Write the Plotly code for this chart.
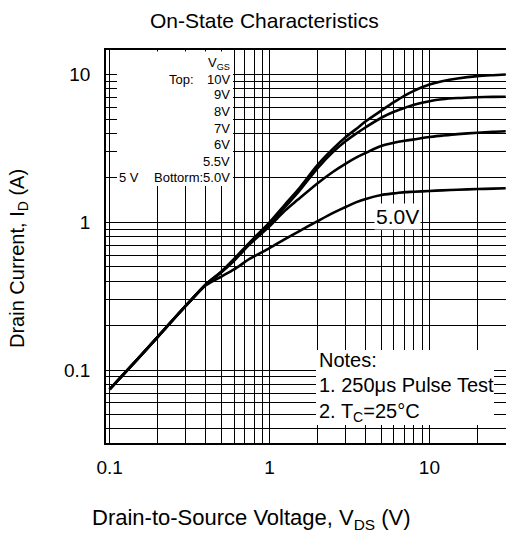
import plotly.graph_objects as go

# ---- data ----
vds = [0.1, 0.15, 0.2, 0.3, 0.4, 0.5, 0.6, 0.75, 1.0, 1.25, 1.5, 2, 2.5, 3, 3.5, 4, 5, 6, 7, 8,
       10, 12, 15, 20, 25, 30]
id_10v = [0.074, 0.119, 0.168, 0.273, 0.38, 0.465, 0.565, 0.73, 1.0, 1.32, 1.65, 2.45, 3.15, 3.78,
          4.3, 4.83, 5.7, 6.5, 7.2, 7.75, 8.55, 9.0, 9.4, 9.75, 9.9, 10.0]
id_9v = [0.074, 0.119, 0.168, 0.273, 0.38, 0.462, 0.555, 0.715, 0.965, 1.27, 1.58, 2.33, 3.0, 3.55,
         4.0, 4.4, 5.1, 5.6, 5.95, 6.25, 6.6, 6.8, 6.93, 7.02, 7.06, 7.08]
id_6v = [0.074, 0.119, 0.168, 0.273, 0.38, 0.46, 0.55, 0.71, 0.94, 1.2, 1.42, 1.84, 2.2, 2.5,
         2.75, 2.95, 3.28, 3.45, 3.56, 3.64, 3.78, 3.86, 3.95, 4.04, 4.1, 4.13]
id_5v = [0.074, 0.119, 0.168, 0.273, 0.375, 0.43, 0.48, 0.565, 0.67, 0.77, 0.86, 1.02, 1.16, 1.27,
         1.37, 1.44, 1.53, 1.57, 1.6, 1.61, 1.63, 1.645, 1.66, 1.68, 1.69, 1.70]

major_ticks = [0.1, 1, 10]
major_text = ["0.1", "1", "10"]
x_minor = [0.2, 0.3, 0.4, 0.5, 0.6, 0.7, 0.8, 0.9, 2, 3, 4, 5, 6, 7, 8, 9, 20]
y_minor = [0.04, 0.05, 0.06, 0.07, 0.08, 0.09, 0.2, 0.3, 0.4, 0.5, 0.6, 0.7, 0.8, 0.9,
           2, 3, 4, 5, 6, 7, 8, 9]

legend_lines = ["V<sub>GS</sub>", "10V", "9V", "8V", "7V", "6V", "5.5V", "Bottorm:5.0V"]
notes_lines = ["Notes:", "1. 250μs Pulse Test", "2. T<sub>C</sub>=25°C"]

FONT = "Liberation Sans, Arial, sans-serif"

fig = go.Figure()
for ys in [id_5v, id_6v, id_9v, id_10v]:
    fig.add_trace(go.Scatter(x=vds, y=ys, mode="lines",
                             line=dict(color="black", width=2.6, shape="spline", smoothing=0.8),
                             showlegend=False, hoverinfo="skip"))

axis_common = dict(type="log", showline=True, linecolor="black", linewidth=1.5, mirror=True,
                   showgrid=True, gridcolor="black", gridwidth=1, ticks="",
                   tickmode="array", tickvals=major_ticks, ticktext=major_text,
                   tickfont=dict(family=FONT, size=19, color="black"))

fig.update_xaxes(**axis_common, range=[-1.0225, 1.479],
                 minor=dict(tickmode="array", tickvals=x_minor, showgrid=True,
                            gridcolor="black", gridwidth=1, ticks=""),
                 ticklabelstandoff=6)
fig.update_yaxes(**axis_common, range=[-1.493, 1.166],
                 minor=dict(tickmode="array", tickvals=y_minor, showgrid=True,
                            gridcolor="black", gridwidth=1, ticks=""),
                 ticklabelstandoff=10)

W, H = 506, 535
L, R, T, B = 106, 0, 50, 92
pw, ph = W - L - R, H - T - B


def px(x):
    return (x - L) / pw


def py(y):
    return (H - B - y) / ph


shapes = [
    # legend (VGS) box
    dict(type="rect", xref="paper", yref="paper", x0=px(117), x1=px(233), y0=py(186), y1=py(51.5),
         fillcolor="white", line=dict(width=0), layer="above"),
    # notes box
    dict(type="rect", xref="paper", yref="paper", x0=px(316), x1=px(494), y0=py(425), y1=py(350),
         fillcolor="white", line=dict(width=0), layer="above"),
]

ann = []
leg_y = [63, 79, 94, 111, 128, 144, 161, 177]
for t, yy in zip(legend_lines, leg_y):
    ann.append(dict(text=t, xref="paper", yref="paper", x=px(232), y=py(yy), xanchor="right",
                    yanchor="middle", showarrow=False, font=dict(family=FONT, size=13, color="black")))
ann.append(dict(text="Top:", xref="paper", yref="paper", x=px(167), y=py(79), xanchor="left",
                yanchor="middle", showarrow=False, font=dict(family=FONT, size=13, color="black")))
ann.append(dict(text="5 V", xref="paper", yref="paper", x=px(117), y=py(177), xanchor="left",
                yanchor="middle", showarrow=False, font=dict(family=FONT, size=13, color="black")))

for t, yy in zip(notes_lines, [360, 385, 412]):
    ann.append(dict(text=t, xref="paper", yref="paper", x=px(317), y=py(yy), xanchor="left",
                    yanchor="middle", showarrow=False, font=dict(family=FONT, size=20, color="black")))

ann.append(dict(text="5.0V", xref="paper", yref="paper", x=px(397), y=py(216), xanchor="center",
                yanchor="middle", showarrow=False, bgcolor="white", borderpad=1,
                font=dict(family=FONT, size=21, color="black")))

ann.append(dict(text="On-State Characteristics", xref="paper", yref="paper", x=px(264), y=py(20),
                xanchor="center", yanchor="middle", showarrow=False,
                font=dict(family=FONT, size=21, color="black")))
ann.append(dict(text="Drain-to-Source Voltage, V<sub>DS</sub> (V)", xref="paper", yref="paper",
                x=px(251), y=py(519), xanchor="center", yanchor="middle", showarrow=False,
                font=dict(family=FONT, size=22, color="black")))
ann.append(dict(text="Drain Current, I<sub>D</sub> (A)", xref="paper", yref="paper",
                x=px(18), y=py(259), xanchor="center", yanchor="middle", showarrow=False,
                textangle=-90, font=dict(family=FONT, size=20, color="black")))

fig.update_layout(width=W, height=H, margin=dict(l=L, r=R, t=T, b=B, autoexpand=False),
                  plot_bgcolor="white", paper_bgcolor="white",
                  shapes=shapes, annotations=ann, showlegend=False)

fig.write_html("out.html")
